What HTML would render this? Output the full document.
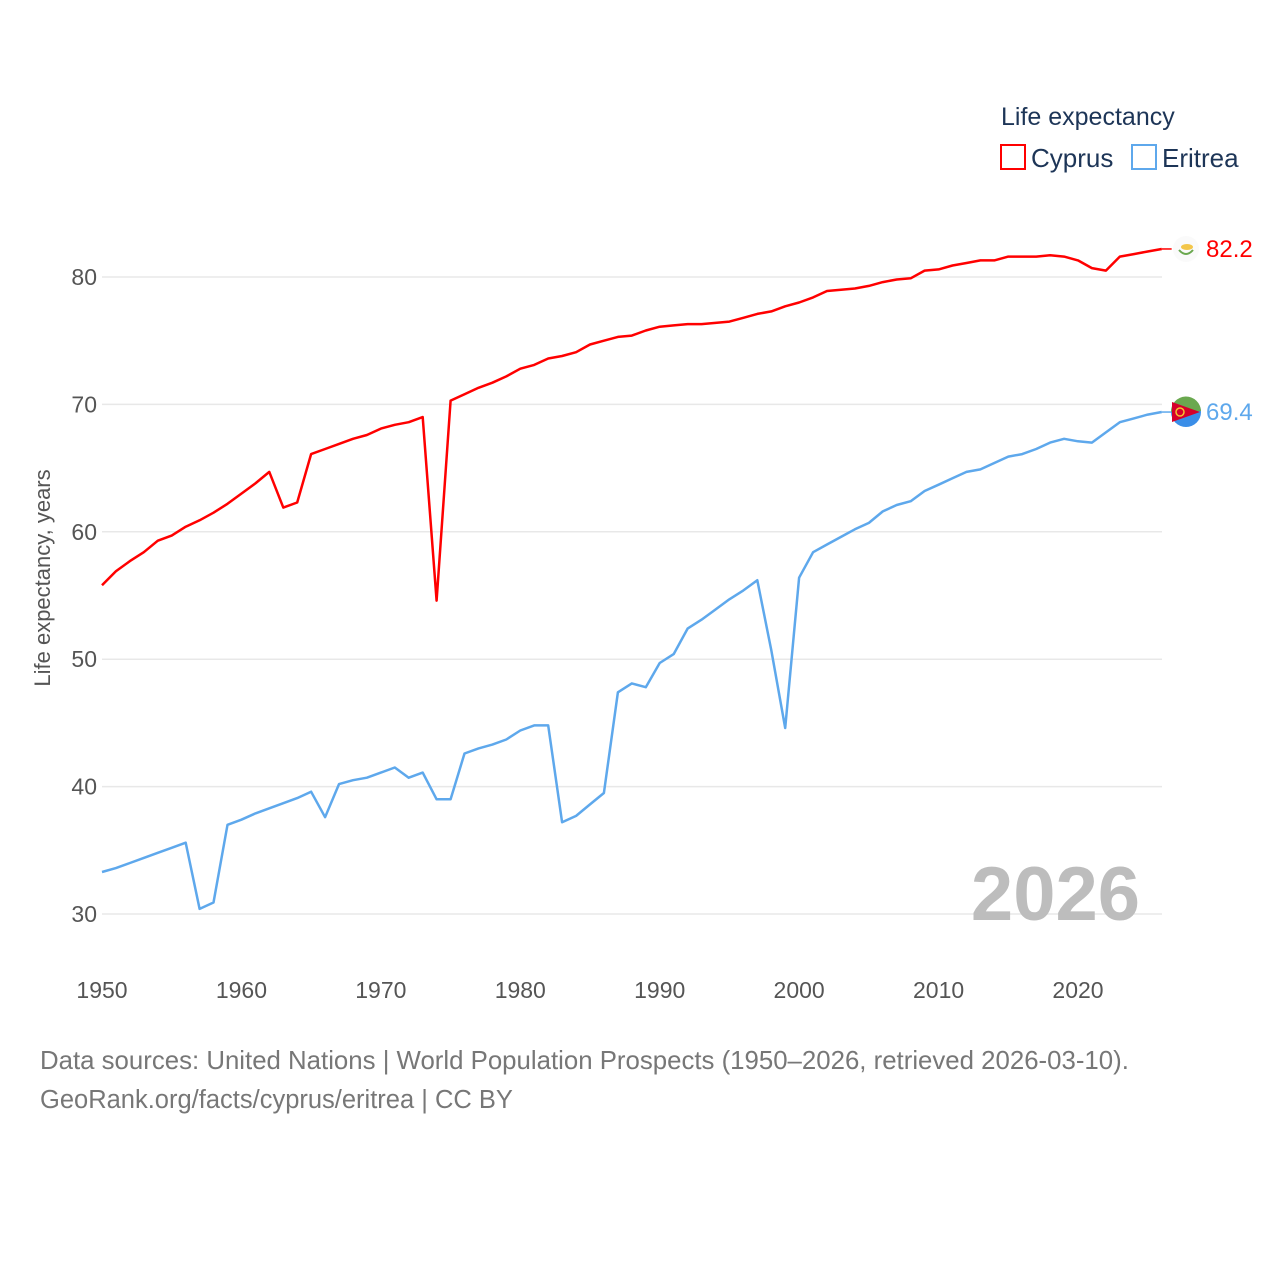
<!DOCTYPE html>
<html><head><meta charset="utf-8"><style>
body{margin:0;background:#fff;font-family:"Liberation Sans",sans-serif;}
#wrap{position:relative;width:1280px;height:1280px;overflow:hidden;}
</style></head><body>
<div id="wrap">
<svg id="chart" width="1280" height="1280" style="position:absolute;left:0;top:0"></svg>
</div>
<script>
const years = [];
for (let y = 1950; y <= 2026; y++) years.push(y);
const cyprus = [55.8,56.9,57.7,58.4,59.3,59.7,60.4,60.9,61.5,62.2,63.0,63.8,64.7,61.9,62.3,66.1,66.5,66.9,67.3,67.6,68.1,68.4,68.6,69.0,54.6,70.3,70.8,71.3,71.7,72.2,72.8,73.1,73.6,73.8,74.1,74.7,75.0,75.3,75.4,75.8,76.1,76.2,76.3,76.3,76.4,76.5,76.8,77.1,77.3,77.7,78.0,78.4,78.9,79.0,79.1,79.3,79.6,79.8,79.9,80.5,80.6,80.9,81.1,81.3,81.3,81.6,81.6,81.6,81.7,81.6,81.3,80.7,80.5,81.6,81.8,82.0,82.2];
const eritrea = [33.3,33.6,34.0,34.4,34.8,35.2,35.6,30.4,30.9,37.0,37.4,37.9,38.3,38.7,39.1,39.6,37.6,40.2,40.5,40.7,41.1,41.5,40.7,41.1,39.0,39.0,42.6,43.0,43.3,43.7,44.4,44.8,44.8,37.2,37.7,38.6,39.5,47.4,48.1,47.8,49.7,50.4,52.4,53.1,53.9,54.7,55.4,56.2,50.7,44.6,56.4,58.4,59.0,59.6,60.2,60.7,61.6,62.1,62.4,63.2,63.7,64.2,64.7,64.9,65.4,65.9,66.1,66.5,67.0,67.3,67.1,67.0,67.8,68.6,68.9,69.2,69.4];
const yTicks = [30,40,50,60,70,80];
const xTicks = [1950,1960,1970,1980,1990,2000,2010,2020];

const NS = "http://www.w3.org/2000/svg";
const svg = document.getElementById('chart');
const X = yr => 102 + (yr - 1950) * (976 / 70);
const Y = v => 277 + (80 - v) * 12.74;
function el(tag, attrs, parent) {
  const e = document.createElementNS(NS, tag);
  for (const k in attrs) e.setAttribute(k, attrs[k]);
  (parent || svg).appendChild(e);
  return e;
}
yTicks.forEach(t => {
  const g = el('line', {x1: 102, x2: 1162, y1: Y(t), y2: Y(t), stroke: '#e8e8e8', 'stroke-width': 1.5});
  
  
  const tx = el('text', {x: 97, y: Y(t) + 8, 'text-anchor': 'end', 'font-size': 23, fill: '#555'});
  tx.textContent = t;
  
  
});
xTicks.forEach(t => {
  const tx = el('text', {x: X(t), y: 998, 'text-anchor': 'middle', 'font-size': 23, fill: '#555'});
  tx.textContent = t;
  
  
});
const yt = el('text', {transform: 'translate(50,578) rotate(-90)', 'text-anchor': 'middle', 'font-size': 22, fill: '#555'});
yt.textContent = 'Life expectancy, years';



const yr = el('text', {x: 1140, y: 920, 'text-anchor': 'end', 'font-size': 76, 'font-weight': 'bold', fill: '#bdbdbd'});
yr.textContent = '2026';



function series(data, color, name) {
  const d = data.map((v, i) => (i ? 'L' : 'M') + X(years[i]).toFixed(1) + ',' + Y(v).toFixed(1)).join(' ');
  const p = el('path', {d: d, fill: 'none', stroke: color, 'stroke-width': 2.5, 'stroke-linejoin': 'round'});
  
  
  const last = data[data.length - 1];
  const lx = X(years[years.length - 1]);
  const c = el('line', {x1: lx, x2: lx + 10, y1: Y(last), y2: Y(last), stroke: color, 'stroke-width': 1.5});
  
  
  const t = el('text', {x: 1206, y: Y(last) + 8, 'font-size': 24, fill: color});
  t.textContent = last.toFixed(1);
  
  
  return Y(last);
}
const cy = series(cyprus, '#ff0000', 'cyprus');
const ey = series(eritrea, '#5ea8ec', 'eritrea');

const f1 = el('circle', {cx: 1186, cy: cy, r: 13, fill: '#fafafa'});


const f1b = el('ellipse', {cx: 1187, cy: cy - 2, rx: 6, ry: 3, fill: '#f3c64a'});


const f1c = el('path', {d: `M1179,${cy + 1} Q1186,${cy + 9} 1193,${cy + 1}`, fill: 'none', stroke: '#6aa84f', 'stroke-width': 2});


const g2 = el('g', {});


el('circle', {cx: 1186, cy: ey, r: 15, fill: '#3a8ee8'}, g2);
el('path', {d: `M1171,${ey} A15,15 0 0 1 1201,${ey - 1} Z`, fill: '#6aa84f'}, g2);
el('path', {d: `M1172,${ey - 10} L1200,${ey} L1172,${ey + 10} Z`, fill: '#d6002a'}, g2);
el('circle', {cx: 1180, cy: ey, r: 4, fill: 'none', stroke: '#f4c430', 'stroke-width': 1.5}, g2);

const lt = el('text', {x: 1001, y: 125, 'font-size': 25, fill: '#1d3557'});
lt.textContent = 'Life expectancy';


[['Cyprus', '#ff0000', 1001], ['Eritrea', '#5ea8ec', 1132]].forEach(([n, c, x]) => {
  const r = el('rect', {x: x, y: 145, width: 24, height: 24, fill: 'none', stroke: c, 'stroke-width': 2});
  
  
  const t = el('text', {x: x + 30, y: 167, 'font-size': 26, fill: '#1d3557'});
  t.textContent = n;
  
  
});

const s1 = el('text', {x: 40, y: 1069, 'font-size': 25.8, fill: '#777'});
s1.textContent = 'Data sources: United Nations | World Population Prospects (1950–2026, retrieved 2026-03-10).';


const s2 = el('text', {x: 40, y: 1108, 'font-size': 25.5, fill: '#777'});
s2.textContent = 'GeoRank.org/facts/cyprus/eritrea | CC BY';


</script>
</body></html>
